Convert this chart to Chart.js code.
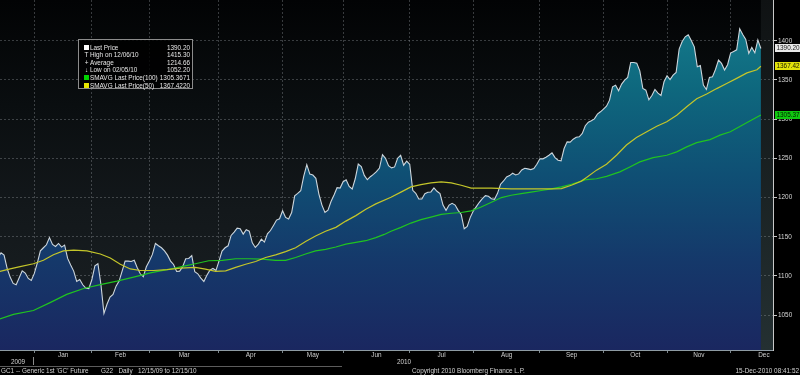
<!DOCTYPE html>
<html>
<head>
<meta charset="utf-8">
<title>GC1 Generic 1st 'GC' Future</title>
<script src="https://cdn.jsdelivr.net/npm/chart.js@4.4.1/dist/chart.umd.min.js"></script>
<style>
html,body{margin:0;padding:0;background:#000;}
#wrap{position:relative;width:800px;height:375px;overflow:hidden;background:#000;font-family:"Liberation Sans",Arial,sans-serif;}
#c{position:absolute;left:0;top:0;}
.t{position:absolute;color:#d2d2d2;font-size:6.4px;line-height:7px;white-space:pre;}
#legend{position:absolute;left:78px;top:39px;width:115px;height:50px;box-sizing:border-box;background:rgba(0,0,0,0.82);border:1px solid #8c8c8c;}
.lr{position:absolute;left:0;width:113px;height:7px;font-size:6.4px;line-height:7px;color:#e6e6e6;white-space:nowrap;}
.li{position:absolute;left:5px;top:1px;width:5px;height:5px;}
.lc{position:absolute;left:4px;top:0;width:7px;text-align:center;}
.ll{position:absolute;left:11px;top:0;}
.lv{position:absolute;right:2px;top:0;}
.ln{position:absolute;background:#8a8a8a;}
</style>
</head>
<body>
<div id="wrap">
  <canvas id="c" width="800" height="375"></canvas>
  <div id="legend"></div>
  <div class="t" id="y2009" style="left:18px;top:357.5px;transform:translateX(-50%);">2009</div>
  <div class="t" id="y2010" style="left:404px;top:357.5px;transform:translateX(-50%);">2010</div>
  <div class="ln" style="left:33px;top:357px;width:1px;height:8px;"></div>
  <div class="ln" style="left:0;top:366px;width:342px;height:1px;background:#5c5c5c;"></div>
  <div class="t" style="left:1px;top:367px;">GC1 -- Generic 1st 'GC' Future</div>
  <div class="t" style="left:101px;top:367px;">G22   Daily   12/15/09 to 12/15/10</div>
  <div class="t" style="left:412px;top:367px;">Copyright 2010 Bloomberg Finance L.P.</div>
  <div class="t" style="right:1px;top:367px;">15-Dec-2010 08:41:52</div>
</div>
<script>
// ---------- data ----------
const monthNames = ['Jan','Feb','Mar','Apr','May','Jun','Jul','Aug','Sep','Oct','Nov','Dec'];
// trading-day index where each month starts (12/15/09 = index 0)
const monthStartIdx = [12,31,50,73,94,114,136,157,179,200,221,242];
// trading-day position of each month label
const monthLabelIdx = [21.5,40.5,61.5,83.5,104,125,146.5,168,189.5,210.5,231.5,253];
const yTickValues = [1050,1100,1150,1200,1250,1300,1350,1400];

// GC1 daily last price, 12/15/09 .. 12/15/10 (one value per trading day)
const priceValues = [
1123.2,1129.6,1126.6,1110.0,1098.6,1090.5,1088.8,1097.7,1106.6,1103.7,
1096.9,1094.3,1103.3,1116.8,1132.0,1136.0,1139.8,1149.0,1140.2,1137.7,
1141.5,1136.8,1139.4,1122.4,1113.9,1106.2,1093.0,1095.6,1088.8,1084.5,
1084.0,1095.2,1113.0,1115.6,1089.2,1052.2,1064.0,1073.0,1076.5,1087.0,
1093.5,1106.2,1119.0,1119.0,1118.5,1120.0,1110.5,1102.8,1099.0,1111.8,
1119.0,1127.5,1141.5,1138.5,1136.0,1132.0,1126.6,1119.0,1114.7,1105.8,
1106.2,1111.8,1122.0,1122.4,1126.0,1105.4,1102.8,1097.2,1093.0,1101.0,
1107.5,1109.6,1107.0,1119.0,1131.7,1136.0,1138.5,1151.7,1156.0,1161.0,
1160.2,1153.4,1159.0,1157.2,1142.3,1136.4,1140.6,1147.0,1143.2,1153.8,
1158.0,1164.5,1171.3,1173.0,1183.2,1174.7,1172.6,1181.0,1202.3,1205.3,
1208.7,1227.4,1242.0,1230.0,1228.7,1224.5,1204.5,1190.4,1181.0,1184.0,
1195.0,1203.2,1212.6,1212.1,1220.2,1222.8,1214.3,1210.9,1224.0,1242.8,
1239.4,1228.3,1222.8,1226.6,1229.6,1233.0,1237.7,1254.7,1250.0,1240.6,
1237.9,1239.1,1250.2,1254.0,1241.3,1246.4,1242.5,1209.3,1205.4,1198.2,
1198.2,1205.0,1206.7,1207.2,1212.3,1208.0,1205.0,1190.5,1183.7,1190.5,
1192.7,1190.5,1183.7,1178.6,1160.2,1163.2,1174.8,1182.9,1188.4,1194.0,
1198.6,1202.5,1201.6,1198.6,1197.8,1205.4,1217.0,1221.2,1226.3,1228.0,
1231.0,1228.9,1230.2,1235.3,1237.4,1236.6,1235.7,1237.0,1242.5,1249.4,
1249.4,1251.5,1254.0,1257.0,1251.0,1247.7,1246.8,1262.6,1271.1,1270.7,
1274.5,1277.0,1277.5,1281.8,1291.6,1296.2,1297.9,1300.4,1306.4,1309.4,
1312.8,1316.6,1324.3,1341.3,1343.4,1336.2,1344.7,1349.8,1353.2,1372.3,
1372.3,1371.5,1361.7,1339.2,1337.0,1324.7,1330.2,1337.9,1333.2,1330.2,
1347.7,1355.3,1350.6,1356.2,1359.6,1389.4,1399.1,1405.1,1407.7,1400.4,
1392.3,1366.8,1368.5,1343.4,1337.9,1353.2,1354.0,1363.4,1375.3,1371.1,
1362.6,1369.4,1384.3,1386.4,1388.5,1415.3,1408.0,1401.7,1383.8,1391.5,
1384.7,1401.0,1390.2
];

// SMAVG Last Price(50) read at trading-day positions
const sma50Idx = [0,4,7.3,11.7,15,18.3,21.6,25,29.4,33.8,37.1,40.4,43.7,47,51.4,55.8,60.3,65.2,68.5,71.9,
75.2,78.5,81.8,85.1,88.4,91.7,95,98.3,101.6,104.9,108.2,111.6,114.9,118.2,121.5,124.8,129.8,133.1,136.4,139.7,
143,146.4,149.7,153,156.3,163,169.5,176.3,182.8,186.1,189.4,192.7,194.4,197.7,201,204.3,207.6,210.9,214.3,217.6,
220.9,224.2,227.5,230.8,234.1,237.4,240.7,244,247.4,250.7,252];
const sma50Values = [1105.4,1109,1112,1115.6,1120,1127,1132,1133,1132,1128,1123,1115,1109,1107,1107,1108,1110,1111,1108.7,1105.8,
1106.5,1111,1115,1118.5,1123.6,1127,1131,1136,1144,1151,1157,1162,1170,1177,1185,1192,1200.5,1207,1213.6,1216.5,
1218.7,1220,1218.7,1215.7,1212,1212,1211,1211,1211,1211.5,1215.7,1221,1225.5,1235,1242.6,1254,1267,1276.6,1284,1291,
1296.6,1305,1315.8,1326,1332,1339,1345.5,1352,1359,1363,1367.42];

// SMAVG Last Price(100) read at trading-day positions
const sma100Idx = [0,5.1,11.7,17.2,22.7,28.3,33.8,39.3,44.8,50.3,55.8,61.4,65.2,69.6,74.1,78.5,82.9,87.3,91.7,95,
98.3,101.6,104.9,108.2,111.6,114.9,118.2,121.5,124.8,127.6,129.8,133.1,136.4,139.7,143,146.4,149.7,153,156.3,159.6,
163,166.3,169.5,172.8,176.1,179.5,182.8,186.1,189.4,192.7,194.4,197.7,201,205.4,208.7,212,216.4,220.9,224.2,227.5,
230.8,235.2,238.5,241.9,245.2,248.5,252];
const sma100Values = [1044.6,1051,1056,1066,1076.5,1084,1089,1093.5,1098.6,1104,1108,1112.6,1115.6,1119.4,1120,1122,1122,1121.5,1120,1120,
1123.6,1128,1132,1134,1137,1140.6,1142.8,1145,1149,1153,1157,1162,1167.5,1171.8,1175,1178.6,1180,1181,1183,1188,
1194,1200,1203,1205,1207,1209,1211,1213.6,1217,1221,1223,1224,1227,1232.8,1239,1245.5,1251,1254,1258.3,1264.7,
1270,1274,1279.6,1284,1291,1298,1305.37];

// legend
const legendLabels = ['Last Price','High on 12/06/10','Average','Low on 02/05/10','SMAVG Last Price(100)','SMAVG Last Price(50)'];
const legendValues = ['1390.20','1415.30','1214.66','1052.20','1305.3671','1367.4220'];
const legendIcons  = ['box:#ffffff','txt:T','txt:+','txt:\u2193','box:#00d400','box:#e8e800'];

// ---------- legend box (html text) ----------
const legendEl = document.getElementById('legend');
const rowTops = [3.5,11.1,18.7,26.3,33.9,41.5];
legendLabels.forEach((lab,i)=>{
  const r = document.createElement('div');
  r.className='lr'; r.style.top = rowTops[i]+'px';
  const ic = legendIcons[i];
  if (ic.startsWith('box:')) {
    const b=document.createElement('div'); b.className='li'; b.style.background=ic.slice(4); r.appendChild(b);
  } else {
    const c=document.createElement('div'); c.className='lc'; c.textContent=ic.slice(4); r.appendChild(c);
  }
  const l=document.createElement('div'); l.className='ll'; l.textContent=lab; r.appendChild(l);
  const v=document.createElement('div'); v.className='lv'; v.textContent=legendValues[i]; r.appendChild(v);
  legendEl.appendChild(r);
});

// ---------- chart ----------
const fontFamily = "'Liberation Sans', Arial, sans-serif";
const xMin = 0.66, xMax = 256;
const yMin = 1005.6, yMax = 1452;
const gridColor = 'rgba(165,170,175,0.33)';

const bgPlugin = {
  id:'bg',
  beforeDraw(chart){
    const {ctx, chartArea:a} = chart;
    ctx.save();
    ctx.fillStyle='#000'; ctx.fillRect(0,0,chart.width,chart.height);
    const g = ctx.createLinearGradient(0,a.top,0,a.bottom);
    g.addColorStop(0,'#020304'); g.addColorStop(0.3,'#0a0e10'); g.addColorStop(0.6,'#13181b'); g.addColorStop(1,'#1b2124');
    ctx.fillStyle=g; ctx.fillRect(a.left,a.top,a.right-a.left,a.bottom-a.top);
    const xs = chart.scales.x.getPixelForValue(priceValues.length-1);
    const g2 = ctx.createLinearGradient(0,a.top,0,a.bottom);
    g2.addColorStop(0,'#0f1213'); g2.addColorStop(1,'#243032');
    ctx.fillStyle=g2; ctx.fillRect(xs,a.top,a.right-xs,a.bottom-a.top);
    ctx.restore();
  },
  afterDraw(chart){
    const {ctx, chartArea:a} = chart;
    const ys = chart.scales.y;
    const boxes = [
      [sma100Values[sma100Values.length-1],'#10c810','#002000'],
      [sma50Values[sma50Values.length-1],'#e2e20a','#202000'],
      [priceValues[priceValues.length-1],'#e8e8e8','#222222']
    ];
    ctx.save();
    ctx.font = '6.4px ' + fontFamily;
    ctx.textBaseline='middle'; ctx.textAlign='left';
    boxes.forEach(([v,bg,fg])=>{
      const py = ys.getPixelForValue(v);
      ctx.fillStyle=bg; ctx.fillRect(a.right+2, Math.round(py)-4, 800-a.right-2, 8);
      ctx.fillStyle=fg; ctx.fillText(v.toFixed(2), a.right+3.5, Math.round(py)+0.5);
    });
    ctx.restore();
  }
};

function fillGradient(c){
  const ch = c.chart; const a = ch.chartArea;
  if (!a) return 'rgba(0,0,0,0)';
  const g = ch.ctx.createLinearGradient(0,a.top,0,a.bottom);
  g.addColorStop(0,'#17808f');
  g.addColorStop(0.25,'#0e687e');
  g.addColorStop(0.5,'#0f4f74');
  g.addColorStop(0.75,'#15386a');
  g.addColorStop(1,'#1a2760');
  return g;
}

new Chart(document.getElementById('c'), {
  type:'line',
  data:{
    datasets:[
      { label:'SMAVG Last Price(50)', data: sma50Idx.map((x,i)=>({x, y:sma50Values[i]})),
        borderColor:'#c4c62a', borderWidth:1.2, pointRadius:0, fill:false, tension:0 },
      { label:'SMAVG Last Price(100)', data: sma100Idx.map((x,i)=>({x, y:sma100Values[i]})),
        borderColor:'#20c420', borderWidth:1.2, pointRadius:0, fill:false, tension:0 },
      { label:'Last Price', data: priceValues.map((y,i)=>({x:i, y})),
        borderColor:'#cdd6dc', borderWidth:1.1, pointRadius:0, fill:'start', backgroundColor: fillGradient, tension:0 }
    ]
  },
  options:{
    responsive:false, animation:false, devicePixelRatio:1,
    layout:{padding:0},
    plugins:{legend:{display:false}, tooltip:{enabled:false}},
    scales:{
      x:{ type:'linear', min:xMin, max:xMax, position:'bottom', weight:0, z:1,
          afterBuildTicks: s=>{ s.ticks = monthStartIdx.map(v=>({value:v})); },
          afterFit: s=>{ s.height=0; s.paddingLeft=0; s.paddingRight=0; },
          ticks:{display:false},
          grid:{color:gridColor, lineWidth:1, drawTicks:true, tickLength:3, tickColor:'#7c878d'},
          border:{display:true, color:'#8e9ba3', width:1, dash:[2,2]} },
      x2:{ type:'linear', min:xMin, max:xMax, position:'bottom', weight:1,
          afterBuildTicks: s=>{ s.ticks = monthLabelIdx.map(v=>({value:v})); },
          afterFit: s=>{ s.height=25; s.paddingLeft=0; s.paddingRight=0; },
          grid:{display:false, drawTicks:false},
          border:{display:false},
          ticks:{ color:'#cfcfcf', font:{family:fontFamily, size:6.4}, padding:1, autoSkip:false, maxRotation:0,
                  callback:(v,i)=>monthNames[i] } },
      y:{ type:'linear', position:'right', min:yMin, max:yMax, z:1,
          afterBuildTicks: s=>{ s.ticks = yTickValues.map(v=>({value:v})); },
          afterFit: s=>{ s.width=27; s.paddingTop=0; s.paddingBottom=0; },
          grid:{color:gridColor, lineWidth:1, drawTicks:true, tickLength:4, tickColor:'#c8c8c8'},
          border:{display:true, color:'#c8c8c8', width:1, dash:[2,2]},
          ticks:{ color:'#d8d8d8', font:{family:fontFamily, size:6.4}, padding:1, callback:v=>String(v) } }
    }
  },
  plugins:[bgPlugin]
});
</script>
</body>
</html>
